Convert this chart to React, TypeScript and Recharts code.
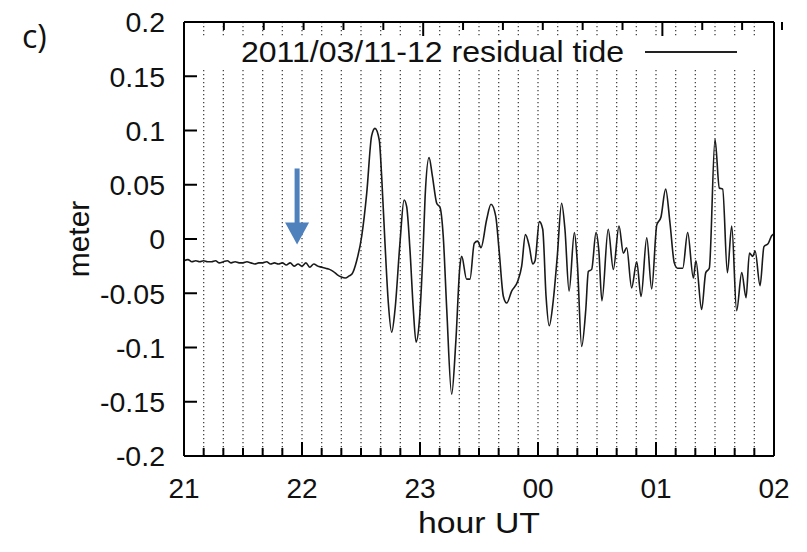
import { LineChart, Line, XAxis, YAxis, CartesianGrid, Legend, ReferenceLine } from 'recharts';

// minutes after 21:00 UT
const minutes = [
  0, 2, 4, 6, 8, 10, 12, 14, 16, 18,
  20, 22, 24, 26, 28, 30, 32, 34, 36, 38,
  40, 42, 44, 46, 48, 50, 52, 54, 56, 58,
  60, 62, 64, 66, 68, 70, 72, 74, 76, 78,
  80, 82, 84, 85.5, 87.8, 90.4, 92.9, 95.4, 97.1, 99.3,
  100.5, 102.2, 103.9, 105.6, 107.3, 109.8, 111.9, 113.2, 114.9, 116.6,
  118.0, 119.6, 121.7, 122.6, 124.6, 126.3, 128.5, 130.2, 131.8, 133.6,
  136.1, 138.2, 140.3, 141.2, 143.7, 145.4, 147.6, 149.3, 151.0, 153.9,
  156.1, 158.5, 160.2, 162.4, 164.1, 166.6, 169.7, 171.7, 173.6, 175.6,
  177.3, 178.5, 180.7, 182.4, 184.1, 185.7, 187.8, 189.8, 192.0, 193.7,
  195.8, 198.5, 200.0, 202.2, 204.3, 205.6, 207.3, 209.5, 210.9, 212.5,
  215.7, 218.3, 221.2, 223.4, 225.1, 227.6, 230.2, 232.4, 235.3, 237.8,
  240.4, 242.5, 244.9, 247.1, 249.3, 251.0, 253.6, 256.1, 259.0, 260.3,
  263.2, 265.3, 267.1, 270.0, 272.2, 273.9, 276.3, 278.5, 281.0, 283.6,
  285.8, 287.5, 289.2, 290.4, 292.9, 294.9, 297.1, 298.8, 300,
];

// residual tide, meter
const residual = [
  -0.020, -0.019, -0.021, -0.020, -0.021, -0.020, -0.021, -0.021, -0.020, -0.022,
  -0.021, -0.020, -0.022, -0.021, -0.022, -0.022, -0.021, -0.022, -0.023, -0.022,
  -0.022, -0.021, -0.023, -0.022, -0.023, -0.022, -0.024, -0.022, -0.025, -0.023,
  -0.025, -0.022, -0.026, -0.023, -0.025, -0.026, -0.027, -0.028, -0.030, -0.033,
  -0.035, -0.036, -0.034, -0.032, -0.020, 0.003, 0.042, 0.095, 0.102, 0.091,
  0.058, -0.004, -0.059, -0.086, -0.065, -0.004, 0.036, 0.030, -0.010, -0.065,
  -0.095, -0.077, -0.004, 0.039, 0.075, 0.058, 0.033, 0.029, 0.003, -0.065,
  -0.143, -0.095, -0.025, -0.016, -0.037, -0.037, -0.004, -0.002, -0.008, 0.018,
  0.032, 0.021, -0.010, -0.053, -0.059, -0.048, -0.039, -0.025, 0.004, -0.007,
  -0.023, -0.020, 0.016, 0.009, -0.053, -0.080, -0.056, -0.016, 0.033, 0.009,
  -0.048, 0.006, -0.022, -0.099, -0.065, -0.030, -0.028, 0.006, -0.010, -0.057,
  0.009, -0.028, 0.012, -0.013, -0.008, -0.045, -0.021, -0.053, 0.001, -0.046,
  0.013, 0.020, 0.046, 0.015, -0.022, -0.027, -0.027, 0.006, -0.036, -0.020,
  -0.065, -0.031, -0.027, 0.092, 0.047, 0.046, -0.031, 0.012, -0.066, -0.031,
  -0.054, -0.013, -0.016, -0.011, -0.043, -0.007, -0.004, 0.003, 0.005,
];

const xTicks = [
  0, 10, 20, 30, 40, 50, 60, 70, 80, 90, 100, 110, 120, 130, 140, 150,
  160, 170, 180, 190, 200, 210, 220, 230, 240, 250, 260, 270, 280, 290, 300,
];
const hourLabels = ['21', '22', '23', '00', '01', '02'];
const yTicks = [-0.2, -0.15, -0.1, -0.05, 0, 0.05, 0.1, 0.15, 0.2];

const arrowAt = { t: 57.5, top: 0.065, tip: -0.005 };

const data = minutes.map((t, i) => ({ t, v: residual[i] }));

const FONT = '"Liberation Sans", Arial, Helvetica, sans-serif';

const BottomTick = (props: any) => {
  const { x, y, payload } = props;
  const isHour = payload.value % 60 === 0;
  return (
    <g>
      <line x1={x} y1={y} x2={x} y2={y - (isHour ? 14 : 8)} stroke="#000" strokeWidth={2} />
      {isHour && (
        <text x={x} y={y + 32} dy="0.36em" textAnchor="middle" fontSize={28} fontFamily={FONT} fill="#111">
          {hourLabels[payload.value / 60]}
        </text>
      )}
    </g>
  );
};

const TopTick = (props: any) => {
  const { x, y, payload } = props;
  const isHour = payload.value % 60 === 0;
  return <line x1={x} y1={y} x2={x} y2={y + (isHour ? 14 : 8)} stroke="#000" strokeWidth={2} />;
};

const LeftTick = (props: any) => {
  const { x, y, payload } = props;
  return (
    <g>
      <line x1={x} y1={y} x2={x + 13} y2={y} stroke="#000" strokeWidth={2} />
      <text x={x - 19} y={y} dy="0.36em" textAnchor="end" fontSize={28.5} fontFamily={FONT} fill="#111">
        {String(payload.value)}
      </text>
    </g>
  );
};

const RightTick = (props: any) => {
  const { x, y } = props;
  return <line x1={x} y1={y} x2={x - 13} y2={y} stroke="#000" strokeWidth={2} />;
};

const ArrowShape = (props: any) => {
  const { x1, y1, y2 } = props;
  const head = 22;
  return (
    <g>
      <line x1={x1} y1={y1} x2={x1} y2={y2 - head + 2} stroke="#4f81bd" strokeWidth={5} />
      <polygon
        points={`${x1 - 12},${y2 - head} ${x1 + 12},${y2 - head} ${x1},${y2}`}
        fill="#4f81bd"
      />
    </g>
  );
};

const Overlay = () => (
  <svg width={807} height={552} style={{ position: 'absolute', left: 0, top: 0 }}>
    <text x={22} y={36} dy="0.36em" fontSize={32} fontFamily='"Open Sans", sans-serif' fill="#111">
      c)
    </text>
    <rect x={196} y={36} width={574} height={32} fill="#fff" />
    <text
      x={241}
      y={52}
      dy="0.36em"
      fontSize={29}
      fontFamily={FONT}
      fill="#111"
      textLength={383}
      lengthAdjust="spacingAndGlyphs"
    >
      2011/03/11-12 residual tide
    </text>
    <line x1={645} y1={52} x2={737} y2={52} stroke="#222" strokeWidth={1.8} />
  </svg>
);

const YLabel = (props: any) => {
  const vb = props.viewBox || { x: 0, y: 22, width: 184, height: 434 };
  const cx = vb.x + 78;
  const cy = vb.y + vb.height / 2;
  return (
    <text
      x={cx}
      y={cy}
      dy="0.36em"
      textAnchor="middle"
      transform={`rotate(-90 ${cx} ${cy})`}
      fontSize={30}
      fontFamily={FONT}
      fill="#111"
    >
      meter
    </text>
  );
};

const XLabel = (props: any) => {
  const vb = props.viewBox || { x: 184, y: 456, width: 590, height: 96 };
  return (
    <text
      x={vb.x + vb.width / 2}
      y={vb.y + 66}
      dy="0.36em"
      textAnchor="middle"
      fontSize={30}
      fontFamily={FONT}
      fill="#111"
      textLength={122}
      lengthAdjust="spacingAndGlyphs"
    >
      hour UT
    </text>
  );
};

export default function App() {
  return (
    <div style={{ position: 'absolute', left: 0, top: 0, width: 807, height: 552, background: '#fff' }}>
      <LineChart width={807} height={552} data={data} margin={{ top: 12, right: 23, bottom: 0, left: 0 }}>
        <CartesianGrid
          xAxisId="b"
          yAxisId="l"
          horizontal={false}
          stroke="#444"
          strokeWidth={1.3}
          strokeDasharray="1.3 2.7"
        />
        <XAxis
          xAxisId="b"
          dataKey="t"
          type="number"
          domain={[0, 300]}
          ticks={xTicks}
          interval={0}
          height={96}
          tickSize={0}
          tickMargin={0}
          tickLine={false}
          tick={BottomTick}
          axisLine={{ stroke: '#000', strokeWidth: 2 }}
          label={XLabel}
        />
        <XAxis
          xAxisId="t"
          orientation="top"
          type="number"
          domain={[0, 300]}
          ticks={xTicks}
          interval={0}
          height={10}
          tickSize={0}
          tickMargin={0}
          tickLine={false}
          tick={TopTick}
          axisLine={{ stroke: '#000', strokeWidth: 2 }}
        />
        <YAxis
          yAxisId="l"
          type="number"
          domain={[-0.2, 0.2]}
          ticks={yTicks}
          interval={0}
          width={184}
          tickSize={0}
          tickMargin={0}
          tickLine={false}
          tick={LeftTick}
          axisLine={{ stroke: '#000', strokeWidth: 2 }}
          label={YLabel}
        />
        <YAxis
          yAxisId="r"
          orientation="right"
          type="number"
          domain={[-0.2, 0.2]}
          ticks={yTicks}
          interval={0}
          width={10}
          tickSize={0}
          tickMargin={0}
          tickLine={false}
          tick={RightTick}
          axisLine={{ stroke: '#000', strokeWidth: 2 }}
        />
        <Line
          xAxisId="b"
          yAxisId="l"
          type="monotone"
          dataKey="v"
          stroke="#1a1a1a"
          strokeWidth={1.6}
          dot={false}
          isAnimationActive={false}
          name="2011/03/11-12 residual tide"
        />
        <ReferenceLine
          xAxisId="b"
          yAxisId="l"
          segment={[
            { x: arrowAt.t, y: arrowAt.top },
            { x: arrowAt.t, y: arrowAt.tip },
          ]}
          shape={ArrowShape}
        />
        <Legend
          verticalAlign="middle"
          layout="horizontal"
          content={Overlay}
          wrapperStyle={{ position: 'absolute', left: 0, top: 0, width: 807, height: 552, pointerEvents: 'none' }}
        />
      </LineChart>
    </div>
  );
}
